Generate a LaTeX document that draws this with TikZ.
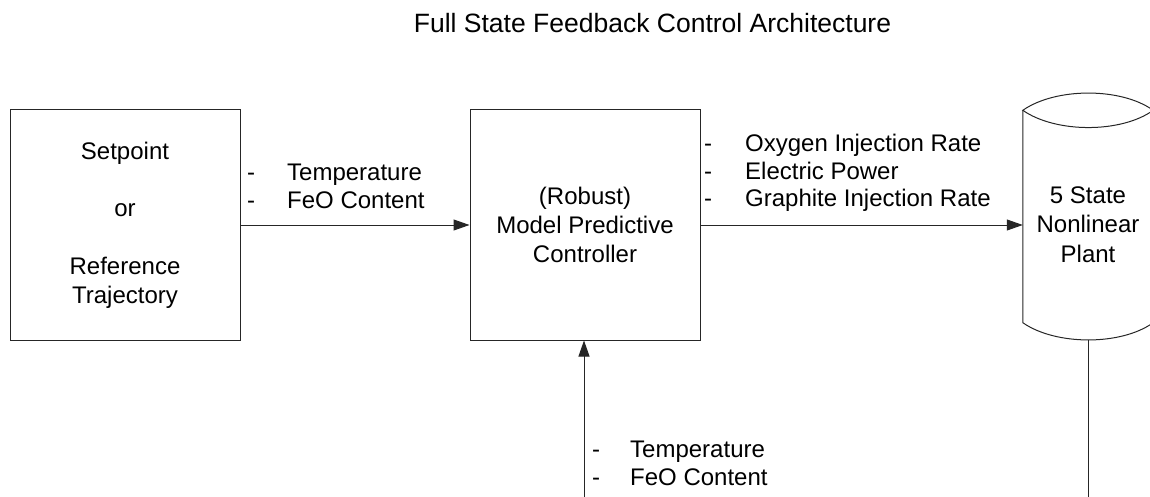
\documentclass[tikz,border=0pt]{standalone}
\usepackage{fontspec}
\setmainfont{Liberation Sans}
\usetikzlibrary{arrows.meta,calc}
\begin{document}
\begin{tikzpicture}[x=1pt,y=-1pt,
  line/.style={draw=black!85,line width=1pt},
  arr/.style={line,-{Triangle[length=16pt,width=11pt]}},
  blk/.style={line,minimum width=230pt,minimum height=230pt,align=center,
    inner sep=0pt,font=\fontsize{24}{28.8}\selectfont},
  lst/.style={anchor=base west,align=left,inner sep=0pt,
    font=\fontsize{24}{27.5}\selectfont}]
\useasboundingbox (0,0) rectangle (1150,497);
\clip (0,0) rectangle (1150,497);

% title
\node[anchor=base,inner sep=0pt,font=\fontsize{26.5}{30}\selectfont]
  (title) at (652.5,33) {Full State Feedback Control Architecture};

% blocks
\node[blk] (ref) at (125,225)
  {Setpoint\\[28.8pt]or\\[28.8pt]Reference\\Trajectory};
\node[blk] (ctrl) at (585,225) {(Robust)\\Model Predictive\\Controller};

% plant drawn as a cylinder with lens-shaped ends
\node[minimum width=130pt,minimum height=247pt,inner sep=0pt]
  (plant) at (1088,216.5) {};
\node[align=center,inner sep=0pt,font=\fontsize{24}{29.5}\selectfont]
  (planttxt) at ($(plant.center)+(0,8)$) {5 State\\Nonlinear\\Plant};
\draw[line]
  ($(plant.north west)+(0,17.5)$) .. controls +(33,-23) and +(-32,-23) ..
  ($(plant.north east)+(0,17.5)$) .. controls +(-32,23) and +(33,23) ..
  cycle;
\draw[line]
  ($(plant.north west)+(0,17.5)$) -- ($(plant.south west)+(0,-17.5)$)
  .. controls +(33,23) and +(-32,23) .. ($(plant.south east)+(0,-17.5)$)
  -- ($(plant.north east)+(0,17.5)$);

% connectors
\draw[arr] (ref.east) -- (ctrl.west);
\draw[arr] (ctrl.east) -- (ctrl.east -| plant.west);
\coordinate (fbR) at ($(plant.south)+(0,200)$);
\coordinate (fbL) at ($(ctrl.south)+(-1,200)$);
\draw[line] (plant.south) -- (fbR);
\draw[arr] (fbL) -- ($(ctrl.south)+(-1,0)$);

% signal labels (anchored at the baseline of their last line)
\node[lst] (refsig) at (247,208)
  {\makebox[40pt][l]{-}Temperature\\\makebox[40pt][l]{-}FeO Content};
\node[lst] (ctrlsig) at (704,207)
  {\makebox[41pt][l]{-}Oxygen Injection Rate\\
   \makebox[41pt][l]{-}Electric Power\\
   \makebox[41pt][l]{-}Graphite Injection Rate};
\node[lst] (fbsig) at (592,485)
  {\makebox[38pt][l]{-}Temperature\\\makebox[38pt][l]{-}FeO Content};
\end{tikzpicture}
\end{document}
